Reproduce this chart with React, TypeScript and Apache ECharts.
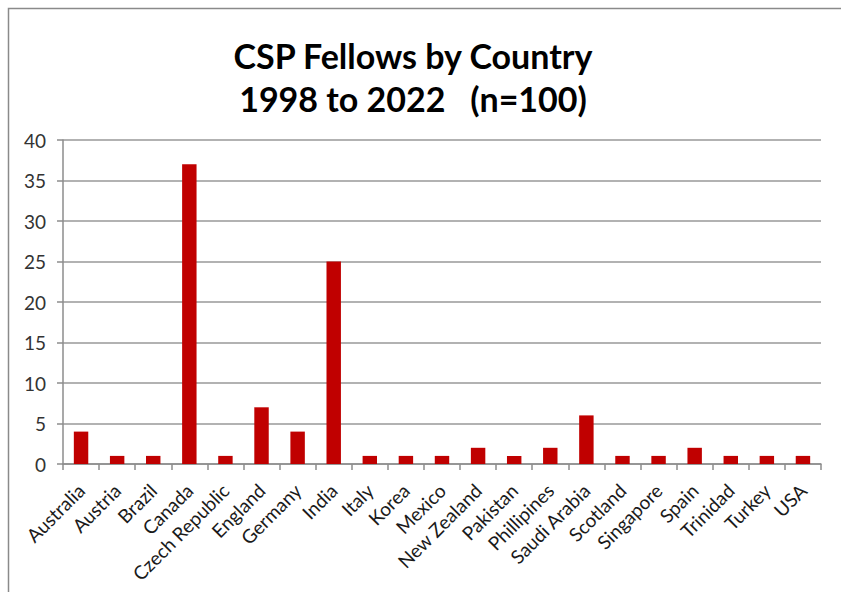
import React, { useEffect, useRef } from "react";
import * as echarts from "echarts";

const titleLines = ["CSP Fellows by Country", "1998 to 2022   (n=100)"];
const countries = [
  "Australia", "Austria", "Brazil", "Canada", "Czech Republic", "England", "Germany",
  "India", "Italy", "Korea", "Mexico", "New Zealand", "Pakistan", "Phillipines",
  "Saudi Arabia", "Scotland", "Singapore", "Spain", "Trinidad", "Turkey", "USA",
];
const fellows = [4, 1, 1, 37, 1, 7, 4, 25, 1, 1, 1, 2, 1, 2, 6, 1, 1, 2, 1, 1, 1];
const yMin = 0;
const yMax = 40;
const yStep = 5;

const FONT = "Lato, 'Noto Sans', sans-serif";

export default function App() {
  const ref = useRef<HTMLDivElement>(null);
  useEffect(() => {
    document.body.style.margin = "0";
    const chart = echarts.init(ref.current!, null, { renderer: "svg" });
    chart.setOption({
      animation: false,
      backgroundColor: "#ffffff",
      title: {
        text: titleLines.join("\n"),
        left: 408,
        top: 29,
        textAlign: "center",
        textStyle: {
          fontFamily: FONT,
          fontWeight: "bold",
          fontSize: 34,
          lineHeight: 43,
          color: "#000000",
        },
      },
      graphic: [
        {
          type: "rect",
          shape: { x: 8.5, y: 8.5, width: 900, height: 700 },
          style: { fill: "none", stroke: "#8a8a8a", lineWidth: 1.5 },
          silent: true,
          z: -1,
        },
      ],
      grid: { left: 63, right: 20, top: 140, bottom: 128, containLabel: false },
      xAxis: {
        type: "category",
        data: countries,
        axisLine: { show: true, lineStyle: { color: "#8c8c8c", width: 1.5 } },
        axisTick: { show: true, alignWithLabel: false, length: 6, lineStyle: { color: "#8c8c8c", width: 1.5 } },
        axisLabel: {
          interval: 0,
          rotate: 45,
          margin: 23,
          fontFamily: FONT,
          fontSize: 19,
          color: "#1a1a1a",
        },
      },
      yAxis: {
        type: "value",
        min: yMin,
        max: yMax,
        interval: yStep,
        axisLine: { show: true, lineStyle: { color: "#8c8c8c", width: 1.5 } },
        axisTick: { show: true, length: 6, lineStyle: { color: "#8c8c8c", width: 1.5 } },
        splitLine: { show: true, lineStyle: { color: "#999999", width: 1.5 } },
        axisLabel: {
          margin: 17,
          fontFamily: FONT,
          fontSize: 19,
          color: "#333333",
        },
      },
      series: [
        {
          type: "bar",
          data: fellows,
          barWidth: "40%",
          itemStyle: { color: "#C00000" },
        },
      ],
    });
    return () => chart.dispose();
  }, []);
  return <div ref={ref} style={{ width: 841, height: 592 }} />;
}
